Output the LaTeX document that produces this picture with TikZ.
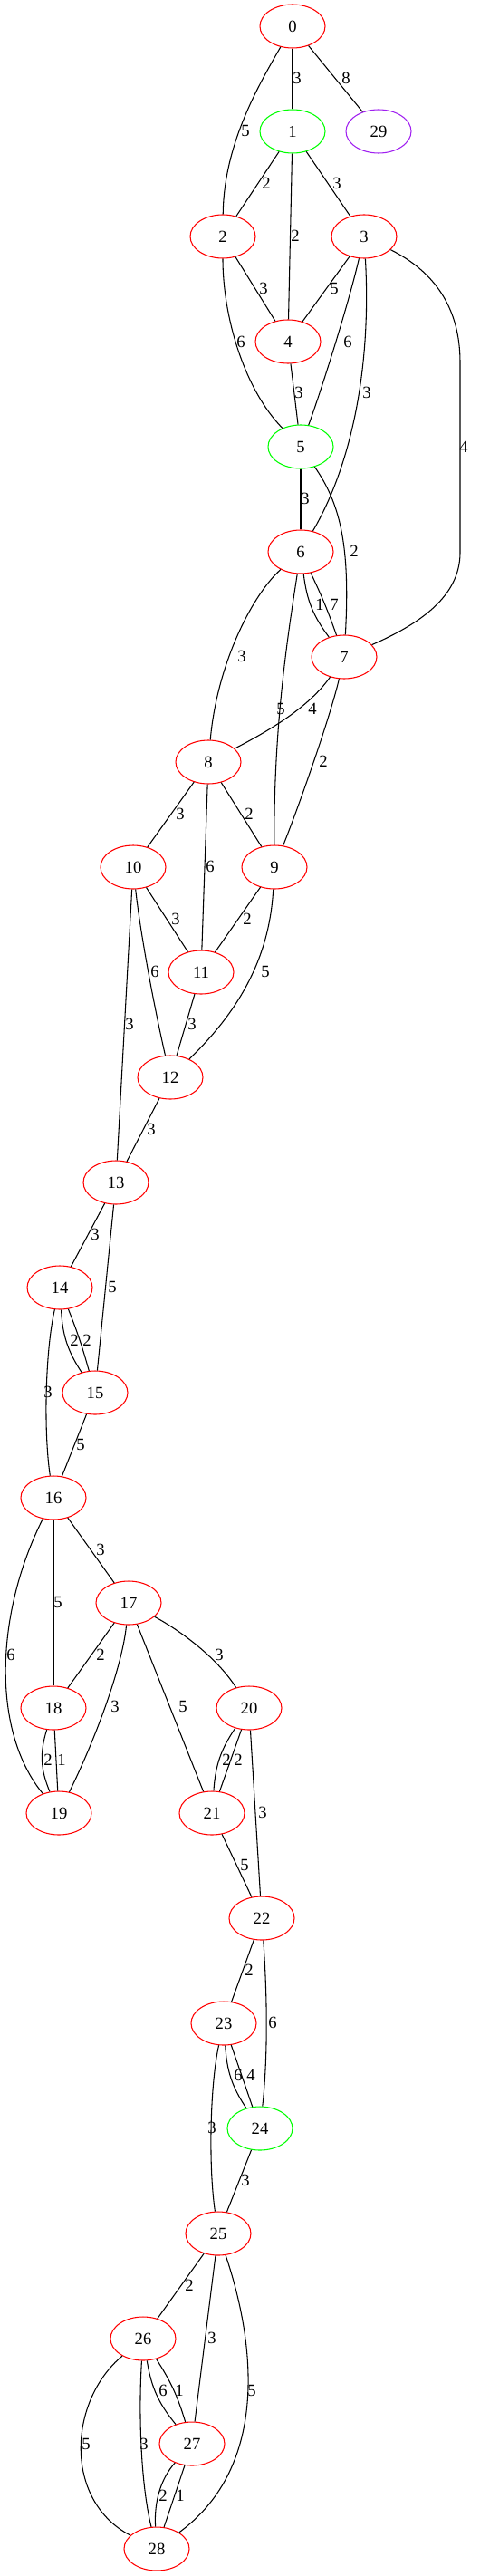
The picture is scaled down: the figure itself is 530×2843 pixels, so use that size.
\documentclass[tikz,border=0pt]{standalone}
\usepackage{fontspec}
\setmainfont{Liberation Serif}
\usetikzlibrary{shapes.geometric}
\definecolor{gvpurple}{HTML}{A020F0}
\tikzset{
vtx/.style={draw=red,ellipse,line width=0.8pt,minimum width=54pt,minimum height=36pt,inner sep=0pt,font=\fontsize{14}{16}\selectfont},
wt/.style={inner sep=0pt,font=\fontsize{14}{16}\selectfont},
edge/.style={draw,line width=0.8pt}
}
\begin{document}
\begin{tikzpicture}[x=0.75pt,y=-0.75pt]
\useasboundingbox (0,0) rectangle (530,2843);

\foreach \n/\x/\y/\c in {0/323/29/red, 1/323/145/green, 29/418/145/gvpurple, 2/246/261/red, 3/402/261/red, 4/318/377/red, 5/332/493/green, 6/332/609/red, 7/380/725/red, 8/230/841/red, 9/303/957/red, 10/147/957/red, 11/222/1073/red, 12/188/1189/red, 13/128/1305/red, 14/66/1421/red, 15/105/1537/red, 16/59/1653/red, 17/142/1769/red, 18/59/1885/red, 20/275/1885/red, 19/65/2001/red, 21/234/2001/red, 22/289/2117/red, 23/247/2233/red, 24/287/2349/green, 25/241/2465/red, 26/158/2581/red, 27/212/2697/red, 28/173/2813/red}
{
\node [vtx,draw=\c] (n\n) at (\x,\y) {\n};
}

\foreach \a/\b in {0/1, 0/29, 1/2, 1/3, 1/4, 2/4, 3/4, 4/5, 5/6, 8/10, 8/11, 8/9, 10/11, 9/11, 10/13, 11/12, 12/13, 13/14, 13/15, 15/16, 16/17, 16/18, 17/18, 17/21, 18/19, 20/21, 20/22, 21/22, 22/23, 23/24, 24/25, 25/26, 25/27, 27/28}
{
\path [edge] (n\a) -- (n\b);
}

\path [edge] (n0) .. controls (285,95) and (247,160) .. (n2);
\path [edge] (n2) .. controls (246,350) and (270,430) .. (n5);
\path [edge] (n3) .. controls (385,335) and (355,430) .. (n5);
\path [edge] (n3) .. controls (410,400) and (390,510) .. (n6);
\path [edge] (n3) .. controls (480,300) and (508,340) .. (508,400) -- (508,610) .. controls (508,660) and (460,690) .. (n7);
\path [edge] (n5) .. controls (375,555) and (387,600) .. (n7);
\path [edge] (n6) to[bend right=15] (n7);
\path [edge] (n6) to[bend left=3] (n7);
\path [edge] (n6) .. controls (280,655) and (240,730) .. (n8);
\path [edge] (n6) .. controls (318,700) and (302,800) .. (n9);
\path [edge] (n7) .. controls (345,775) and (310,800) .. (n8);
\path [edge] (n7) .. controls (365,790) and (330,890) .. (n9);
\path [edge] (n10) .. controls (155,1030) and (170,1110) .. (n12);
\path [edge] (n9) .. controls (298,1050) and (270,1110) .. (n12);
\path [edge] (n14) to[bend right=15] (n15);
\path [edge] (n14) to[bend left=3] (n15);
\path [edge] (n14) .. controls (50,1490) and (48,1580) .. (n16);
\path [edge] (n16) .. controls (-5,1780) and (-10,1910) .. (n19);
\path [edge] (n17) .. controls (135,1840) and (105,1920) .. (n19);
\path [edge] (n17) .. controls (200,1800) and (240,1830) .. (n20);
\path [edge] (n18) to[bend right=20] (n19);
\path [edge] (n20) to[bend right=15] (n21);
\path [edge] (n22) .. controls (295,2200) and (296,2270) .. (n24);
\path [edge] (n23) to[bend right=15] (n24);
\path [edge] (n23) .. controls (232,2300) and (230,2390) .. (n25);
\path [edge] (n25) .. controls (280,2580) and (300,2720) .. (n28);
\path [edge] (n26) to[bend right=15] (n27);
\path [edge] (n26) to[bend left=8] (n27);
\path [edge] (n26) .. controls (75,2650) and (70,2760) .. (n28);
\path [edge] (n26) .. controls (153,2660) and (155,2740) .. (n28);
\path [edge] (n27) .. controls (178,2735) and (170,2760) .. (n28);

\foreach \x/\y/\w [count=\i] in {328/86/3, 382/86/8, 271/144/5, 294/202/2, 372/202/3, 326/260/2, 291/318/3, 369/318/5, 266/377/6, 384/377/6, 330/433/3, 405/433/3, 512/493/4, 337/550/3, 391/608/2, 353/667/1, 369/667/7, 267/724/3, 310/782/5, 345/782/4, 357/840/2, 199/898/3, 275/898/2, 232/956/6, 194/1014/3, 273/1014/2, 171/1072/6, 293/1072/5, 143/1130/3, 212/1130/3, 167/1246/3, 105/1362/3, 124/1420/5, 82/1479/2, 96/1479/2, 53/1536/3, 89/1594/5, 111/1710/3, 64/1768/5, 12/1826/6, 111/1826/2, 242/1826/3, 127/1883/3, 202/1883/5, 53/1942/2, 68/1942/1, 250/1942/2, 263/1942/2, 290/2000/3, 270/2058/5, 275/2174/2, 301/2232/6, 263/2290/6, 277/2290/4, 234/2348/3, 271/2406/3, 209/2522/2, 234/2580/3, 278/2638/5, 180/2638/6, 198/2638/1, 95/2697/5, 159/2697/3, 180/2754/2, 199/2754/1}
{
\node [wt] (w\i) at (\x,\y) {\w};
}
\end{tikzpicture}
\end{document}
